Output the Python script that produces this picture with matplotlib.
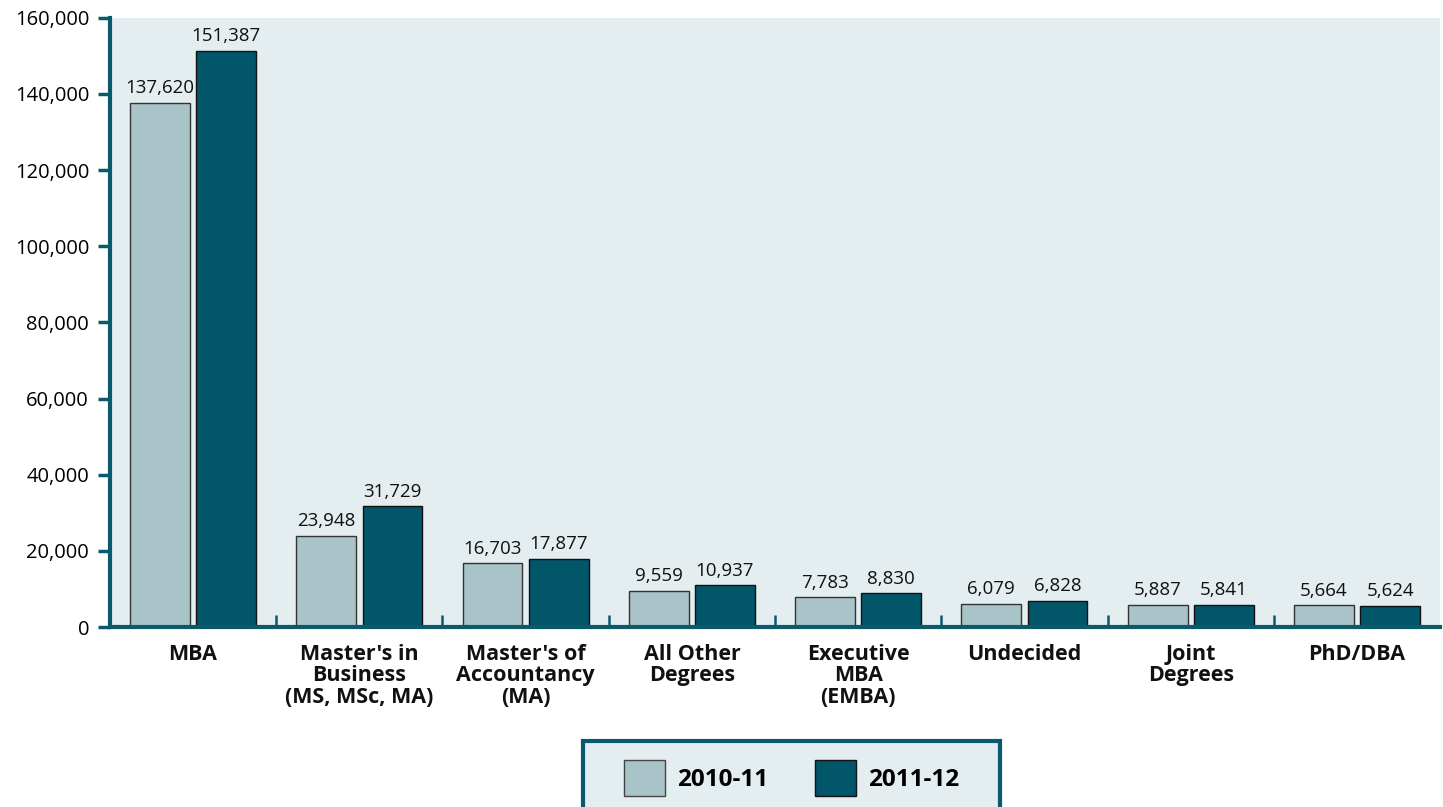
import numpy as np
import matplotlib.pyplot as plt
from matplotlib.patches import Patch, Rectangle

categories = ['MBA', "Master's in\nBusiness\n(MS, MSc, MA)", "Master's of\nAccountancy\n(MA)",
              'All Other\nDegrees', 'Executive\nMBA\n(EMBA)', 'Undecided', 'Joint\nDegrees', 'PhD/DBA']
vals_2010 = [137620, 23948, 16703, 9559, 7783, 6079, 5887, 5664]
vals_2011 = [151387, 31729, 17877, 10937, 8830, 6828, 5841, 5624]
series_labels = ['2010-11', '2011-12']

light = '#a8c4c9'
dark = '#02566a'
teal = '#0b5a6c'
bg = '#e4edf0'

plt.rcParams['font.family'] = ['Open Sans', 'DejaVu Sans']

fig = plt.figure(figsize=(14.43, 8.07), dpi=100)
ax = fig.add_axes([0.0762, 0.223, 0.9218, 0.755])
ax.set_facecolor(bg)

x = np.arange(len(categories))
w = 0.36
off = 0.199
b1 = ax.bar(x - off, vals_2010, w, color=light, edgecolor='#333333', linewidth=1)
b2 = ax.bar(x + off, vals_2011, w, color=dark, edgecolor='#111111', linewidth=1)

for bars, vals in ((b1, vals_2010), (b2, vals_2011)):
    for r, v in zip(bars, vals):
        ax.text(r.get_x() + r.get_width() / 2, v + 1500, '{:,}'.format(v),
                ha='center', va='bottom', fontsize=13.5, color='#111111')

ax.set_xlim(-0.5, len(categories) - 0.5)
ax.set_ylim(0, 160000)
ax.set_yticks(np.arange(0, 160001, 20000))
ax.set_yticklabels(['{:,}'.format(t) for t in range(0, 160001, 20000)], fontsize=14.5)
ax.tick_params(axis='y', direction='out', length=9, width=2.5, color=teal, pad=6)

# category boundary ticks pointing inward
ax.set_xticks(np.arange(0.5, len(categories) - 0.5, 1))
ax.set_xticklabels([])
ax.tick_params(axis='x', direction='in', length=9, width=1.8, color=teal)
for i, c in enumerate(categories):
    ax.text(i, -4500, c, ha='center', va='top', fontsize=15.5, fontweight='bold',
            linespacing=1.02, color='#111111')

for s in ['top', 'right']:
    ax.spines[s].set_visible(False)
ax.spines['left'].set_color(teal)
ax.spines['left'].set_linewidth(3)
ax.spines['bottom'].set_color(teal)
ax.spines['bottom'].set_linewidth(3)

# legend box
fig.patches.append(Rectangle((583 / 1443, -0.05), 417 / 1443, (807 - 741) / 807 + 0.05,
                             transform=fig.transFigure, facecolor=bg, edgecolor=teal,
                             linewidth=3, zorder=0))
handles = [Patch(facecolor=light, edgecolor='#444444', label=series_labels[0]),
           Patch(facecolor=dark, edgecolor='#111111', label=series_labels[1])]
leg = fig.legend(handles=handles, loc='center', bbox_to_anchor=(791.5 / 1443, (807 - 778) / 807),
                 ncol=2, frameon=False, prop={'weight': 'bold', 'size': 17.5},
                 handlelength=1.7, handleheight=1.95, borderaxespad=0,
                 handletextpad=0.5, columnspacing=1.9)

fig.savefig('out.png', dpi=100)
